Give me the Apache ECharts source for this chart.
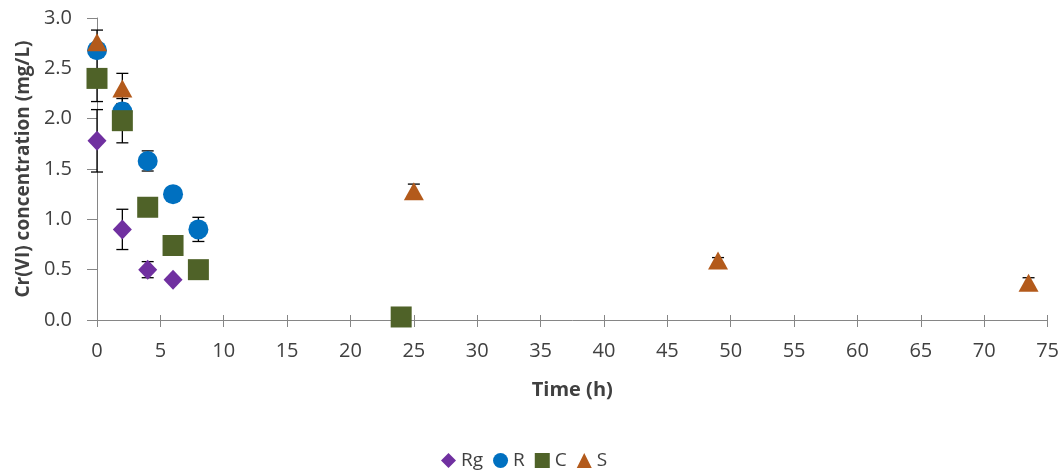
<!DOCTYPE html>
<html><head><meta charset="utf-8">
<script src="https://cdn.jsdelivr.net/npm/echarts@6/dist/echarts.min.js"></script>
<style>html,body{margin:0;padding:0;background:#fff}#c{width:1062px;height:471px}</style>
</head><body><div id="c"></div>
<script>
// Data
const rgTime = [0, 2, 4, 6];
const rgConc = [1.78, 0.90, 0.50, 0.40];
const rgErr  = [0.31, 0.20, 0.08, 0.0];

const rTime = [0, 2, 4, 6, 8];
const rConc = [2.68, 2.07, 1.58, 1.25, 0.90];
const rErr  = [0.0, 0.0, 0.10, 0.0, 0.12];

const cTime = [0, 2, 4, 6, 8, 24];
const cConc = [2.40, 1.98, 1.12, 0.74, 0.50, 0.03];
const cErr  = [0.23, 0.22, 0.0, 0.0, 0.0, 0.0];

const sTime = [0, 2, 25, 49, 73.5];
const sConc = [2.76, 2.30, 1.28, 0.59, 0.37];
const sErr  = [0.12, 0.15, 0.07, 0.03, 0.05];

const xTicks = [0,5,10,15,20,25,30,35,40,45,50,55,60,65,70,75];
const yTicks = ['0.0','0.5','1.0','1.5','2.0','2.5','3.0'];

const zip = (t, v) => t.map((x, i) => [x, v[i]]);
const errData = (t, v, e) => t.map((x, i) => [x, v[i] - e[i], v[i] + e[i]]).filter((d, i) => e[i] > 0);

const FONT = 'Open Sans';
const TXT = '#404040';

function errSeries(t, v, e) {
  return {
    type: 'custom',
    silent: true,
    z: 1,
    data: errData(t, v, e),
    renderItem: function (params, api) {
      const x = api.value(0);
      const lo = api.coord([x, api.value(1)]);
      const hi = api.coord([x, api.value(2)]);
      const w = 6;
      const st = { stroke: '#000', lineWidth: 1.3 };
      return {
        type: 'group',
        children: [
          { type: 'line', shape: { x1: lo[0], y1: lo[1], x2: hi[0], y2: hi[1] }, style: st },
          { type: 'line', shape: { x1: lo[0] - w, y1: lo[1], x2: lo[0] + w, y2: lo[1] }, style: st },
          { type: 'line', shape: { x1: hi[0] - w, y1: hi[1], x2: hi[0] + w, y2: hi[1] }, style: st }
        ]
      };
    }
  };
}

const chart = echarts.init(document.getElementById('c'), null, { renderer: 'canvas' });
chart.setOption({
  animation: false,
  backgroundColor: '#fff',
  grid: { left: 97, right: 14, top: 18, bottom: 151 },
  legend: {
    left: 436, top: 446,
    itemGap: 10, itemWidth: 15, itemHeight: 15,
    textStyle: { fontFamily: FONT, fontSize: 19, color: TXT },
    data: [
      { name: 'Rg', icon: 'diamond' },
      { name: 'R', icon: 'circle' },
      { name: 'C', icon: 'rect' },
      { name: 'S', icon: 'triangle' }
    ]
  },
  xAxis: [{
    type: 'value', min: 0, max: 75, interval: 5,
    name: 'Time (h)', nameLocation: 'middle', nameGap: 60,
    nameTextStyle: { fontFamily: FONT, fontSize: 20, fontWeight: 'bold', color: TXT },
    axisLine: { show: true, onZero: false, lineStyle: { color: '#868686', width: 1 } },
    axisTick: { show: true, inside: false, length: 7, lineStyle: { color: '#868686' } },
    axisLabel: { fontFamily: FONT, fontSize: 20, color: TXT, margin: 21,
      formatter: v => xTicks.indexOf(v) >= 0 ? String(v) : '' },
    splitLine: { show: false }
  }, {
    type: 'value', min: 0, max: 75, interval: 5, position: 'bottom',
    axisLine: { show: false },
    axisTick: { show: true, inside: true, length: 5, lineStyle: { color: '#868686' } },
    axisLabel: { show: false },
    splitLine: { show: false }
  }],
  yAxis: {
    type: 'value', min: 0, max: 3, interval: 0.5,
    name: 'Cr(VI) concentration (mg/L)', nameLocation: 'middle', nameGap: 64,
    nameTextStyle: { fontFamily: FONT, fontSize: 19, fontWeight: 'bold', color: TXT },
    axisLine: { show: true, lineStyle: { color: '#868686', width: 1 } },
    axisTick: { show: true, inside: false, length: 10, lineStyle: { color: '#868686' } },
    axisLabel: { fontFamily: FONT, fontSize: 20, color: TXT, margin: 25,
      formatter: v => yTicks[Math.round(v / 0.5)] },
    splitLine: { show: false }
  },
  series: [
    errSeries(rgTime, rgConc, rgErr),
    errSeries(rTime, rConc, rErr),
    errSeries(cTime, cConc, cErr),
    errSeries(sTime, sConc, sErr),
    { name: 'Rg', type: 'scatter', symbol: 'diamond', symbolSize: [19, 20], z: 3,
      itemStyle: { color: '#7030A0', opacity: 1 }, data: zip(rgTime, rgConc) },
    { name: 'R', type: 'scatter', symbol: 'circle', symbolSize: 20, z: 3,
      itemStyle: { color: '#0070C0', opacity: 1 }, data: zip(rTime, rConc) },
    { name: 'C', type: 'scatter', symbol: 'rect', symbolSize: 21, z: 3,
      itemStyle: { color: '#4F6228', opacity: 1 }, data: zip(cTime, cConc) },
    { name: 'S', type: 'scatter', symbol: 'triangle', symbolSize: [20, 18], z: 3,
      itemStyle: { color: '#B35A1B', opacity: 1 }, data: zip(sTime, sConc) }
  ]
});
</script>
</body></html>
